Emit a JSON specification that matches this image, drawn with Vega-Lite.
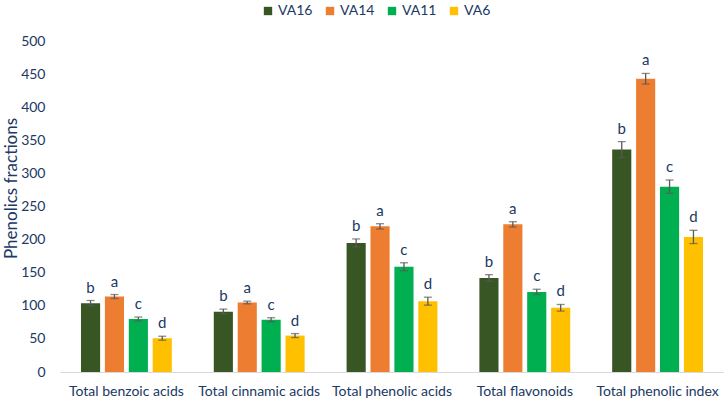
{
  "$schema": "https://vega.github.io/schema/vega-lite/v6.json",
  "width": 664,
  "height": 331,
  "autosize": "none",
  "padding": {"left": 60, "top": 41, "right": 0, "bottom": 29},
  "background": "white",
  "config": {
    "view": {"stroke": null},
    "font": "Lato",
    "axis": {"labelFont": "Lato", "titleFont": "Lato", "labelColor": "#203864", "titleColor": "#203864"},
    "axisY": {"labelOverlap": false, "grid": false, "domain": false, "ticks": false, "labelPadding": 15, "labelFontSize": 14, "titleFontSize": 17, "titleFontWeight": "normal", "titleX": -40, "titleY": 147, "titleAngle": -90, "titleBaseline": "bottom", "titleAlign": "center"},
    "legend": {"labelFont": "Lato", "labelColor": "#203864"}
  },
  "data": {
    "values": [
      {"category": "Total benzoic acids", "variety": "VA16", "value": 104, "lo": 100, "hi": 108, "letter": "b"},
      {"category": "Total benzoic acids", "variety": "VA14", "value": 114, "lo": 111, "hi": 117, "letter": "a"},
      {"category": "Total benzoic acids", "variety": "VA11", "value": 80, "lo": 77, "hi": 83, "letter": "c"},
      {"category": "Total benzoic acids", "variety": "VA6", "value": 51, "lo": 48, "hi": 54, "letter": "d"},
      {"category": "Total cinnamic acids", "variety": "VA16", "value": 91, "lo": 88, "hi": 95, "letter": "b"},
      {"category": "Total cinnamic acids", "variety": "VA14", "value": 105, "lo": 103, "hi": 107, "letter": "a"},
      {"category": "Total cinnamic acids", "variety": "VA11", "value": 79, "lo": 76, "hi": 82, "letter": "c"},
      {"category": "Total cinnamic acids", "variety": "VA6", "value": 55, "lo": 52, "hi": 58, "letter": "d"},
      {"category": "Total phenolic acids", "variety": "VA16", "value": 195, "lo": 189, "hi": 201, "letter": "b"},
      {"category": "Total phenolic acids", "variety": "VA14", "value": 220, "lo": 216, "hi": 224, "letter": "a"},
      {"category": "Total phenolic acids", "variety": "VA11", "value": 159, "lo": 153, "hi": 165, "letter": "c"},
      {"category": "Total phenolic acids", "variety": "VA6", "value": 107, "lo": 101, "hi": 113, "letter": "d"},
      {"category": "Total flavonoids", "variety": "VA16", "value": 142, "lo": 137, "hi": 147, "letter": "b"},
      {"category": "Total flavonoids", "variety": "VA14", "value": 223, "lo": 219, "hi": 227, "letter": "a"},
      {"category": "Total flavonoids", "variety": "VA11", "value": 121, "lo": 117, "hi": 125, "letter": "c"},
      {"category": "Total flavonoids", "variety": "VA6", "value": 97, "lo": 92, "hi": 102, "letter": "d"},
      {"category": "Total phenolic index", "variety": "VA16", "value": 336, "lo": 324, "hi": 348, "letter": "b"},
      {"category": "Total phenolic index", "variety": "VA14", "value": 443, "lo": 435, "hi": 451, "letter": "a"},
      {"category": "Total phenolic index", "variety": "VA11", "value": 280, "lo": 270, "hi": 290, "letter": "c"},
      {"category": "Total phenolic index", "variety": "VA6", "value": 204, "lo": 194, "hi": 214, "letter": "d"}
    ]
  },
  "encoding": {
    "x": {
      "field": "category", "type": "nominal", "sort": null,
      "scale": {"paddingInner": 0.28, "paddingOuter": 0.14},
      "axis": {"title": null, "labelAngle": 0, "ticks": false, "labelPadding": 12, "labelFontSize": 14, "domainColor": "#D9D9D9", "domainWidth": 1}
    },
    "xOffset": {
      "field": "variety", "type": "nominal", "sort": ["VA16", "VA14", "VA11", "VA6"],
      "scale": {"paddingInner": 0.2, "paddingOuter": 0.1}
    }
  },
  "layer": [
    {
      "mark": {"type": "bar"},
      "encoding": {
        "y": {
          "field": "value", "type": "quantitative",
          "scale": {"domain": [0, 500]},
          "axis": {"title": "Phenolics fractions", "values": [0, 50, 100, 150, 200, 250, 300, 350, 400, 450, 500], "labelOverlap": false}
        },
        "color": {
          "field": "variety", "type": "nominal", "sort": ["VA16", "VA14", "VA11", "VA6"],
          "scale": {"domain": ["VA16", "VA14", "VA11", "VA6"], "range": ["#375623", "#ED7D31", "#00B050", "#FFC000"]},
          "legend": {"title": null, "orient": "none", "direction": "horizontal", "legendX": 201, "legendY": -37, "symbolType": "square", "symbolSize": 70, "symbolStrokeWidth": 0, "labelFontSize": 14, "columnPadding": 10, "labelOffset": 3}
        }
      }
    },
    {
      "mark": {"type": "rule", "color": "#595959", "strokeWidth": 1.3},
      "encoding": {
        "y": {"field": "lo", "type": "quantitative", "axis": {"title": "Phenolics fractions", "values": [0, 50, 100, 150, 200, 250, 300, 350, 400, 450, 500], "labelOverlap": false}},
        "y2": {"field": "hi"}
      }
    },
    {
      "mark": {"type": "tick", "color": "#595959", "orient": "horizontal", "size": 8, "thickness": 1.3},
      "encoding": {"y": {"field": "lo", "type": "quantitative", "axis": {"title": "Phenolics fractions", "values": [0, 50, 100, 150, 200, 250, 300, 350, 400, 450, 500], "labelOverlap": false}}}
    },
    {
      "mark": {"type": "tick", "color": "#595959", "orient": "horizontal", "size": 8, "thickness": 1.3},
      "encoding": {"y": {"field": "hi", "type": "quantitative", "axis": {"title": "Phenolics fractions", "values": [0, 50, 100, 150, 200, 250, 300, 350, 400, 450, 500], "labelOverlap": false}}}
    },
    {
      "mark": {"type": "text", "color": "#203864", "fontSize": 15, "baseline": "bottom", "dy": -5},
      "encoding": {
        "y": {"field": "hi", "type": "quantitative", "axis": {"title": "Phenolics fractions", "values": [0, 50, 100, 150, 200, 250, 300, 350, 400, 450, 500], "labelOverlap": false}},
        "text": {"field": "letter"}
      }
    }
  ]
}
